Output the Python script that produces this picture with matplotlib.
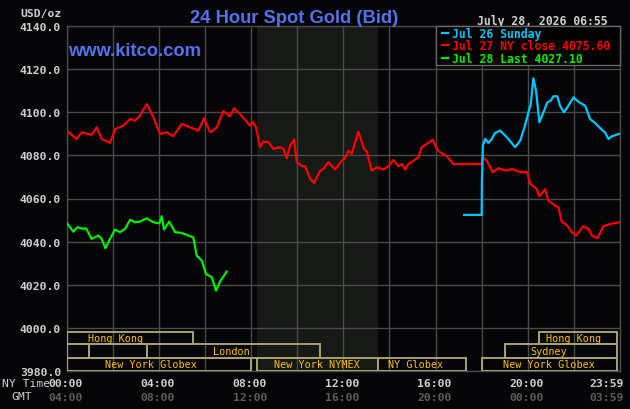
import matplotlib
matplotlib.use('Agg')
import matplotlib.pyplot as plt
import matplotlib.transforms as mtransforms
from matplotlib.patches import Rectangle
from matplotlib.lines import Line2D

# NY time in decimal hours, price in USD/oz
red_hours = [0.00, 0.43, 0.65, 1.08, 1.30, 1.52, 1.88, 2.10, 2.46, 2.75, 2.96, 3.18, 3.47, 3.76,
             4.05, 4.34, 4.62, 4.99, 5.35, 5.71, 5.96, 6.22, 6.51, 6.79, 7.08, 7.26, 7.52, 7.95,
             8.07, 8.21, 8.39, 8.53, 8.75, 8.96, 9.25, 9.40, 9.54, 9.69, 9.86, 9.98, 10.20, 10.34,
             10.56, 10.73, 10.99, 11.13, 11.35, 11.64, 11.93, 12.07, 12.22, 12.36, 12.65, 12.90,
             13.02, 13.23, 13.45, 13.74, 13.95, 14.17, 14.39, 14.56, 14.68, 14.82, 15.04, 15.25,
             15.40, 15.62, 15.88, 16.05, 16.20, 16.49, 16.77, 16.95, 18.00, 18.05, 18.22, 18.48,
             18.72, 19.09, 19.31, 19.67, 19.98, 20.10, 20.39, 20.50, 20.75, 20.89, 21.18, 21.33,
             21.47, 21.69, 21.91, 22.10, 22.39, 22.63, 22.78, 23.02, 23.28, 23.57, 23.98]
red_price = [4091.5, 4087.6, 4090.7, 4089.5, 4093.0, 4087.6, 4085.8, 4092.2, 4093.8, 4096.9, 4096.1,
             4098.4, 4103.8, 4097.7, 4089.9, 4090.7, 4088.9, 4094.6, 4093.0, 4091.5, 4097.2, 4090.7,
             4093.0, 4100.5, 4098.1, 4101.8, 4099.2, 4093.8, 4095.6, 4093.0, 4083.8, 4086.4, 4086.1,
             4083.0, 4083.8, 4083.0, 4078.7, 4084.5, 4087.3, 4076.9, 4075.0, 4075.0, 4069.1, 4067.2,
             4072.9, 4073.7, 4076.9, 4073.4, 4077.5, 4078.7, 4082.2, 4080.7, 4091.0, 4083.0, 4081.7,
             4072.9, 4074.5, 4073.4, 4075.0, 4077.9, 4075.0, 4076.0, 4073.4, 4076.0, 4077.5, 4079.1,
             4083.8, 4085.3, 4087.3, 4083.0, 4081.4, 4079.6, 4076.0, 4076.0, 4076.0, 4079.1, 4077.5,
             4072.2, 4074.0, 4072.9, 4073.7, 4072.2, 4072.2, 4066.8, 4064.4, 4061.0, 4064.4, 4059.0,
             4056.7, 4055.9, 4049.3, 4047.7, 4044.4, 4042.8, 4047.1, 4045.9, 4042.8, 4041.6, 4047.1,
             4048.2, 4049.0]

blue_hours = [17.24, 18.00, 18.01, 18.05, 18.15, 18.29, 18.44, 18.58, 18.80, 19.09, 19.45, 19.67,
              19.88, 20.03, 20.13, 20.24, 20.36, 20.50, 20.68, 20.85, 21.00, 21.11, 21.28, 21.40,
              21.57, 21.76, 21.98, 22.19, 22.49, 22.70, 22.92, 23.21, 23.35, 23.50, 23.65, 23.98]
blue_price = [4052.4, 4052.4, 4067.5, 4084.5, 4087.6, 4085.8, 4087.6, 4090.4, 4091.5, 4088.4, 4083.8,
              4086.8, 4093.8, 4100.0, 4103.8, 4115.8, 4110.0, 4095.4, 4100.0, 4104.6, 4105.4, 4107.4,
              4107.4, 4103.0, 4100.0, 4103.0, 4106.9, 4104.9, 4103.0, 4096.9, 4095.0, 4091.9, 4090.7,
              4087.6, 4088.9, 4090.0]

green_hours = [0.00, 0.29, 0.46, 0.72, 0.84, 1.08, 1.37, 1.52, 1.68, 1.88, 2.10, 2.31, 2.53, 2.75,
               2.96, 3.18, 3.47, 3.76, 4.02, 4.12, 4.22, 4.45, 4.70, 4.99, 5.28, 5.49, 5.64, 5.86,
               6.04, 6.29, 6.48, 6.65, 6.94]
green_price = [4048.7, 4044.6, 4046.7, 4045.9, 4046.2, 4041.3, 4042.8, 4041.3, 4036.9, 4041.3, 4045.6,
               4044.4, 4045.9, 4050.1, 4049.0, 4049.3, 4050.8, 4049.0, 4048.5, 4051.8, 4045.6, 4049.3,
               4044.4, 4044.0, 4042.8, 4042.0, 4033.5, 4031.2, 4025.0, 4023.5, 4017.3, 4021.5, 4026.1]

legend_labels = ['Jul 26 Sunday', 'Jul 27 NY close 4075.60', 'Jul 28 Last 4027.10']

# trading sessions drawn in the bottom band
session_names = ['Hong Kong', 'Hong Kong', '', '', 'London', 'Sydney',
                 'New York Globex', 'New York NYMEX', 'NY Globex', 'New York Globex']
session_row = [0, 0, 1, 1, 1, 1, 2, 2, 2, 2]
session_start = [0.0, 20.5, 0.0, 0.95, 3.5, 19.0, 0.0, 8.25, 13.5, 18.0]
session_end = [5.5, 23.85, 0.95, 3.5, 11.0, 23.85, 8.0, 13.5, 17.3, 23.85]
session_label_at = [2.1, 22.0, None, None, 7.13, 20.93, 3.64, 10.86, 15.15, 20.92]
row_top = [3998.1, 3992.3, 3986.1]
row_bottom = [3992.3, 3986.1, 3980.0]

ny_labels = ['00:00', '04:00', '08:00', '12:00', '16:00', '20:00', '23:59']
gmt_labels = ['04:00', '08:00', '12:00', '16:00', '20:00', '00:00', '03:59']
label_hours = [0, 4, 8, 12, 16, 20, 24]

W, H = 630, 410
BG = '#050507'
GRID = '#4a4a4a'
LIGHT = '#cfcfcf'
DIM = '#5c5c5c'
KHAKI = '#a8a26c'
ORANGE = '#ffc000'
BLUE_T = '#5272ee'
MONO = 'DejaVu Sans Mono'
line_colors = ['#00c8ff', '#ff0000', '#00f000']


def P(x, y):
    return x / W, 1 - y / H


fig = plt.figure(figsize=(6.3, 4.1), dpi=100, facecolor=BG)
ax = fig.add_axes([66.7 / W, 1 - 372 / H, (620 - 66.7) / W, (372 - 27) / H])
ax.set_facecolor(BG)
ax.set_xlim(0, 24)
ax.set_ylim(3980, 4140)

ax.axvspan(8.25, 13.5, color='#161916', zorder=0, lw=0)

ax.set_xticks(range(0, 25, 2))
ax.set_yticks(range(3980, 4141, 20))
ax.set_yticklabels(['%.1f' % v for v in range(3980, 4141, 20)],
                   fontfamily=MONO, fontweight='bold', fontsize=8.2, color=LIGHT)
ax.tick_params(axis='x', length=0, labelbottom=False)
ax.tick_params(axis='y', length=0, pad=4)
ax.grid(True, color=GRID, lw=1)
ax.set_axisbelow(True)
for s in ax.spines.values():
    s.set_color(GRID)
    s.set_linewidth(1)

ax.plot(red_hours, red_price, color=line_colors[1], lw=1.6, zorder=3)
ax.plot(blue_hours, blue_price, color=line_colors[0], lw=1.6, zorder=4)
ax.plot(green_hours, green_price, color=line_colors[2], lw=1.6, zorder=4)

for name, r, a, b, at in zip(session_names, session_row, session_start, session_end, session_label_at):
    ax.add_patch(Rectangle((a, row_bottom[r]), b - a, row_top[r] - row_bottom[r],
                           fill=False, edgecolor=KHAKI, lw=1.4, zorder=5))
    if name:
        ax.text(at, (row_top[r] + row_bottom[r]) / 2, name, ha='center', va='center',
                fontfamily=MONO, fontsize=7.3, color=ORANGE, zorder=6)

# time labels under the plot
tr = mtransforms.blended_transform_factory(ax.transData, fig.transFigure)
for h, ny, gmt in zip(label_hours, ny_labels, gmt_labels):
    ha = 'right' if h == 24 else 'center'
    xh = h + 0.17 if h == 24 else h - 0.06
    ax.text(xh, P(0, 386.7)[1], ny, transform=tr, ha=ha, va='baseline',
            fontfamily=MONO, fontweight='bold', fontsize=8.2, color=LIGHT, clip_on=False)
    ax.text(xh, P(0, 401)[1], gmt, transform=tr, ha=ha, va='baseline',
            fontfamily=MONO, fontweight='bold', fontsize=8.2, color=DIM, clip_on=False)
fig.text(*P(2.5, 387.5), 'NY Time', ha='left', va='baseline', fontfamily=MONO,
         fontsize=8.2, color=LIGHT)
fig.text(*P(11, 400), 'GMT', ha='left', va='baseline', fontfamily=MONO,
         fontsize=8.2, color=LIGHT)

# header texts
fig.text(*P(61.5, 17.5), 'USD/oz', ha='right', va='baseline', fontfamily=MONO,
         fontweight='bold', fontsize=8.2, color=LIGHT)
fig.text(*P(294, 22.7), '24 Hour Spot Gold (Bid)', ha='center', va='baseline',
         fontfamily='Liberation Sans', fontweight='bold', fontsize=13.2, color=BLUE_T)
fig.text(*P(68, 56), 'www.kitco.com', ha='left', va='baseline',
         fontfamily='Liberation Sans', fontweight='bold', fontsize=13.2, color=BLUE_T, zorder=10)
fig.text(*P(608, 25), 'July 28, 2026 06:55', ha='right', va='baseline', fontfamily=MONO,
         fontweight='bold', fontsize=8.3, color=LIGHT)

# legend box
x0, y0 = P(435.7, 66)
x1, y1 = P(619.5, 27.3)
fig.add_artist(Rectangle((x0, y0), x1 - x0, y1 - y0, transform=fig.transFigure,
                         facecolor='#000000', edgecolor='#6a6a6a', lw=1, zorder=8))
for lab, col, yb in zip(legend_labels, line_colors, [38.3, 50, 63.3]):
    ym = P(0, yb - 4)[1]
    fig.add_artist(Line2D([P(441.7, 0)[0], P(448.3, 0)[0]], [ym, ym], color=col, lw=1.6,
                          transform=fig.transFigure, zorder=9))
    fig.text(*P(451.7, yb), lab, ha='left', va='baseline', fontfamily=MONO,
             fontweight='bold', fontsize=8.3, color=col, zorder=9)

fig.savefig('out.png', dpi=100, facecolor=BG)
